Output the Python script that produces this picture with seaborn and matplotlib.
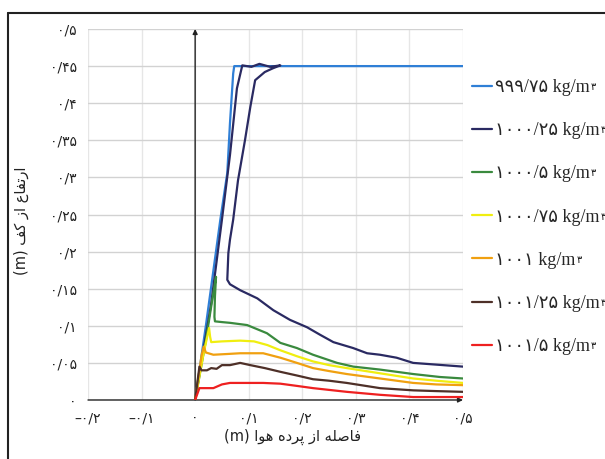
import numpy as np
import matplotlib
matplotlib.use("Agg")
import matplotlib.pyplot as plt
import seaborn as sns
from matplotlib.font_manager import FontProperties
from matplotlib.lines import Line2D

sns.set_style("white")
plt.rcParams['font.family'] = ['DejaVu Sans']

# density contours: height above floor (m) vs distance from the air curtain (m)
series_labels = [
    "۹۹۹/۷۵ kg/m",
    "۱۰۰۰/۲۵ kg/m",
    "۱۰۰۰/۵ kg/m",
    "۱۰۰۰/۷۵ kg/m",
    "۱۰۰۱ kg/m",
    "۱۰۰۱/۲۵ kg/m",
    "۱۰۰۱/۵ kg/m",
]
unit_exponent = "۳"
series_colors = ["#2f7fd6", "#2a2a62", "#3a8a3e", "#f0ee10", "#f0a010", "#4e3028", "#ee2020"]

rho_999_75_x = [0, 0.02, 0.047, 0.060, 0.065, 0.071, 0.073, 0.10, 0.20, 0.30, 0.40, 0.50]
rho_999_75_y = [0, 0.10, 0.243, 0.306, 0.373, 0.440, 0.450, 0.450, 0.450, 0.450, 0.450, 0.450]

rho_1000_25_x = [0, 0.03, 0.050, 0.065, 0.078, 0.088, 0.105, 0.12, 0.14, 0.159,
                 0.145, 0.130, 0.112, 0.103, 0.093, 0.080, 0.071, 0.065, 0.062, 0.060,
                 0.065, 0.084, 0.116, 0.146, 0.177, 0.209, 0.233, 0.258, 0.295, 0.321,
                 0.345, 0.376, 0.407, 0.444, 0.50]
rho_1000_25_y = [0, 0.13, 0.243, 0.330, 0.420, 0.451, 0.449, 0.453, 0.449, 0.451,
                 0.447, 0.442, 0.431, 0.395, 0.350, 0.296, 0.243, 0.216, 0.198, 0.162,
                 0.156, 0.148, 0.137, 0.121, 0.108, 0.098, 0.088, 0.078, 0.070, 0.063,
                 0.061, 0.057, 0.050, 0.048, 0.045]

rho_1000_5_x = [0, 0.02, 0.033, 0.039, 0.037, 0.036, 0.037, 0.05, 0.065, 0.097, 0.134,
                0.159, 0.19, 0.22, 0.265, 0.295, 0.345, 0.407, 0.457, 0.50]
rho_1000_5_y = [0, 0.08, 0.14, 0.166, 0.14, 0.112, 0.106, 0.105, 0.104, 0.101, 0.090,
                0.077, 0.070, 0.061, 0.050, 0.045, 0.041, 0.035, 0.031, 0.029]

rho_1000_75_x = [0, 0.015, 0.026, 0.028, 0.030, 0.05, 0.084, 0.11, 0.135, 0.159, 0.19,
                 0.22, 0.25, 0.283, 0.345, 0.407, 0.45, 0.50]
rho_1000_75_y = [0, 0.06, 0.097, 0.085, 0.078, 0.079, 0.080, 0.079, 0.074, 0.067, 0.059,
                 0.052, 0.047, 0.043, 0.036, 0.029, 0.026, 0.023]

rho_1001_x = [0, 0.012, 0.016, 0.020, 0.034, 0.06, 0.084, 0.127, 0.159, 0.19, 0.22,
              0.25, 0.283, 0.345, 0.407, 0.45, 0.50]
rho_1001_y = [0, 0.060, 0.072, 0.064, 0.061, 0.062, 0.063, 0.063, 0.057, 0.050, 0.043,
              0.039, 0.035, 0.029, 0.023, 0.021, 0.020]

rho_1001_25_x = [0, 0.008, 0.012, 0.022, 0.030, 0.040, 0.050, 0.065, 0.084, 0.103, 0.13,
                 0.159, 0.19, 0.22, 0.25, 0.283, 0.345, 0.407, 0.45, 0.50]
rho_1001_25_y = [0, 0.045, 0.040, 0.040, 0.043, 0.042, 0.047, 0.047, 0.050, 0.047, 0.043,
                 0.038, 0.033, 0.028, 0.026, 0.023, 0.016, 0.013, 0.012, 0.011]

rho_1001_5_x = [0, 0.008, 0.034, 0.05, 0.065, 0.127, 0.159, 0.19, 0.22, 0.283, 0.345,
                0.407, 0.50]
rho_1001_5_y = [0, 0.016, 0.016, 0.021, 0.023, 0.023, 0.022, 0.019, 0.016, 0.011, 0.007,
                0.004, 0.004]

series_x = [rho_999_75_x, rho_1000_25_x, rho_1000_5_x, rho_1000_75_x,
            rho_1001_x, rho_1001_25_x, rho_1001_5_x]
series_y = [rho_999_75_y, rho_1000_25_y, rho_1000_5_y, rho_1000_75_y,
            rho_1001_y, rho_1001_25_y, rho_1001_5_y]

x_ticks = [-0.2, -0.1, 0.0, 0.1, 0.2, 0.3, 0.4, 0.5]
x_tick_labels = ["–۰/۲", "–۰/۱", "۰", "۰/۱", "۰/۲", "۰/۳", "۰/۴", "۰/۵"]
y_ticks = [0.0, 0.05, 0.1, 0.15, 0.2, 0.25, 0.3, 0.35, 0.4, 0.45, 0.5]
y_tick_labels = ["۰", "۰/۰۵", "۰/۱", "۰/۱۵", "۰/۲", "۰/۲۵", "۰/۳", "۰/۳۵", "۰/۴", "۰/۴۵", "۰/۵"]

# Persian axis titles, written in visual order with contextual letter forms
x_title = "(m) \uFE8D\uFEEE\uFEEB \uFEE9\uFEA9\uFEAE\uFB58 \uFEAF\uFE8D \uFEEA\uFEE0\uFEBB\uFE8E\uFED3"
y_title = "(m) \uFED2\uFB90 \uFEAF\uFE8D \uFEC9\uFE8E\uFED4\uFE97\uFEAD\uFE8D"

W, H = 605, 459
fig = plt.figure(figsize=(W / 100, H / 100), dpi=100)
ax = fig.add_axes([88 / W, 1 - 400 / H, 375 / W, 371 / H])

for xs, ys, col, lab in zip(series_x, series_y, series_colors, series_labels):
    sns.lineplot(x=xs, y=ys, sort=False, estimator=None, color=col, lw=1.6,
                 label=lab, ax=ax, zorder=3)

ax.set_xlim(-0.2, 0.5)
ax.set_ylim(0, 0.5)
ax.set_xticks(x_ticks)
ax.set_xticklabels(x_tick_labels, fontsize=10, color="#222")
ax.set_yticks(y_ticks)
ax.set_yticklabels(y_tick_labels, fontsize=10, color="#222")
ax.tick_params(length=0, pad=8)
ax.set_xlabel("")
ax.set_ylabel("")
for s in ax.spines.values():
    s.set_visible(False)
ax.grid(axis="y", color="#d2d2d2", lw=1.0)
ax.grid(axis="x", color="#e6e6e6", lw=1.0)

arrow_kw = dict(arrowstyle="-|>", color="#222222", lw=1.0, mutation_scale=7,
                shrinkA=0, shrinkB=0)
ax.annotate("", xy=(0, 0.5), xytext=(0, 0), arrowprops=arrow_kw,
            annotation_clip=False, zorder=2)
ax.annotate("", xy=(0.5, 0), xytext=(-0.2, 0), arrowprops=arrow_kw,
            annotation_clip=False, zorder=2)

leg_font = FontProperties(family=["Liberation Serif", "DejaVu Sans"], size=13)
leg = ax.legend(loc="upper left", bbox_to_anchor=(472 / W, 1 - 79 / H),
                bbox_transform=fig.transFigure, frameon=False, prop=leg_font,
                handlelength=1.1, handletextpad=0.2, labelspacing=1.45,
                borderpad=0, borderaxespad=0)

fig.text(292 / W, 1 - 437 / H, x_title, ha="center", va="center", fontsize=10.5,
         color="#222")
fig.text(21 / W, 1 - 221 / H, y_title, ha="center", va="center", rotation=90,
         fontsize=10.5, color="#222")

# small raised exponent after each legend unit
fig.canvas.draw()
renderer = fig.canvas.get_renderer()
inv = fig.transFigure.inverted()
for t in leg.get_texts():
    bb = t.get_window_extent(renderer)
    x1, y1 = inv.transform((bb.x1, bb.y1))
    fig.text(x1 + 0.5 / W, y1 - 3 / H, unit_exponent, ha="left", va="top",
             fontsize=7, color="#111")

# outer frame of the figure
fig.add_artist(Line2D([8 / W, 8 / W], [0, 1 - 13 / H], transform=fig.transFigure,
                      color="#222", lw=1.5))
fig.add_artist(Line2D([8 / W, 1], [1 - 13 / H, 1 - 13 / H], transform=fig.transFigure,
                      color="#222", lw=1.5))

fig.savefig("out.png", dpi=100)
